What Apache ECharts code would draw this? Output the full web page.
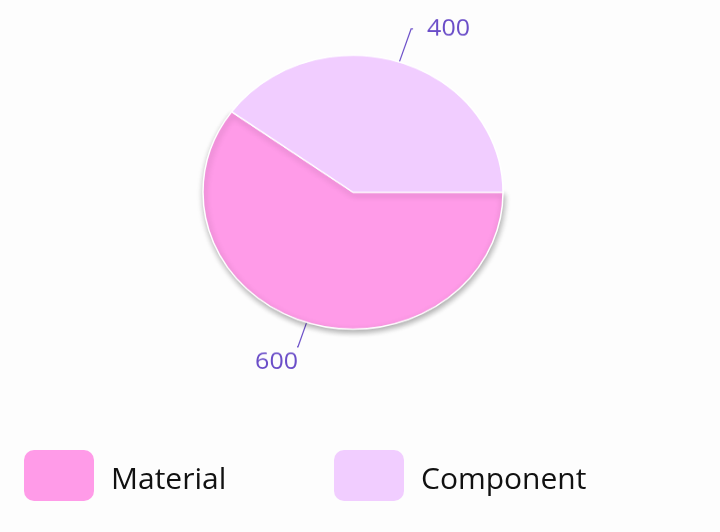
<!DOCTYPE html>
<html>
<head>
<meta charset="utf-8">
<script src="https://cdn.jsdelivr.net/npm/echarts@6/dist/echarts.min.js"></script>
<style>
  html, body { margin: 0; padding: 0; background: #fdfdfd; }
  #wrap { position: relative; width: 720px; height: 532px; overflow: hidden; }
  #legendChart { position: absolute; left: 0; top: 0; width: 720px; height: 532px; }
  #pieChart { position: absolute; left: 0; top: 0; width: 720px; height: 582.7px;
              transform: scaleY(0.913); transform-origin: 0 0; pointer-events: none; }
</style>
</head>
<body>
<div id="wrap">
  <div id="legendChart"></div>
  <div id="pieChart"></div>
</div>
<script>
// ---- data ----
const categories = ['Material', 'Component'];
const values = [600, 400];
const colors = ['#ff9be8', '#f1cdff'];

const labelColor = '#6a4dc8';
const fontFamily = '"Open Sans", Lato, sans-serif';

const roundIcon = 'path://M10,0 H60 A10,10 0 0 1 70,10 V41 A10,10 0 0 1 60,51 H10 A10,10 0 0 1 0,41 V10 A10,10 0 0 1 10,0 Z';

// label tweaks per slice (style only)
const labelStyles = [
  { distanceToLabelLine: -1, formatter: '\n{c}', lineHeight: 34 },
  { distanceToLabelLine: 14, formatter: '{c}' }
];
const lineLengths = [28, 38];

function pieData(withShadow) {
  return categories.map((name, i) => {
    const item = {
      name: name,
      value: values[i],
      itemStyle: { color: colors[i] },
      label: Object.assign({}, labelStyles[i]),
      labelLine: { length: lineLengths[i], length2: i === 0 ? 1 : 2 }
    };
    if (withShadow && i === 0) {
      item.itemStyle.shadowBlur = 6;
      item.itemStyle.shadowOffsetX = 1;
      item.itemStyle.shadowOffsetY = 3;
      item.itemStyle.shadowColor = 'rgba(0,0,0,0.32)';
    }
    return item;
  });
}

// legend chart (unscaled)
const legendChart = echarts.init(document.getElementById('legendChart'), null, { renderer: 'canvas' });
const legendCommon = {
  orient: 'horizontal',
  top: 450,
  padding: 0,
  itemWidth: 70,
  itemHeight: 51,
  icon: roundIcon,
  selectedMode: false,
  formatter: '\n{name}',
  textStyle: { fontFamily: fontFamily, fontSize: 30, fontWeight: 500, color: '#111111', lineHeight: 10, padding: [0, 0, 0, 12] }
};
legendChart.setOption({
  backgroundColor: '#fdfdfd',
  animation: false,
  legend: [
    Object.assign({ data: [categories[0]], left: 24 }, legendCommon),
    Object.assign({ data: [categories[1]], left: 334 }, legendCommon)
  ],
  series: [{
    type: 'pie',
    radius: [0, 0],
    center: [-500, -500],
    silent: true,
    label: { show: false },
    labelLine: { show: false },
    data: pieData(false)
  }]
});

// pie chart (scaled vertically to make the ellipse)
const pieChart = echarts.init(document.getElementById('pieChart'), null, { renderer: 'canvas' });
pieChart.setOption({
  backgroundColor: 'transparent',
  animation: false,
  series: [{
    type: 'pie',
    center: [353, 210.5],
    radius: [0, 150],
    startAngle: 0,
    clockwise: true,
    avoidLabelOverlap: false,
    silent: true,
    itemStyle: { borderColor: '#ffffff', borderWidth: 1.5 },
    label: {
      show: true,
      position: 'outside',
      color: labelColor,
      fontFamily: fontFamily,
      fontSize: 25,
      fontWeight: 500
    },
    labelLine: {
      show: true,
      lineStyle: { color: labelColor, width: 1.2 }
    },
    data: pieData(true)
  }]
});
</script>
</body>
</html>
